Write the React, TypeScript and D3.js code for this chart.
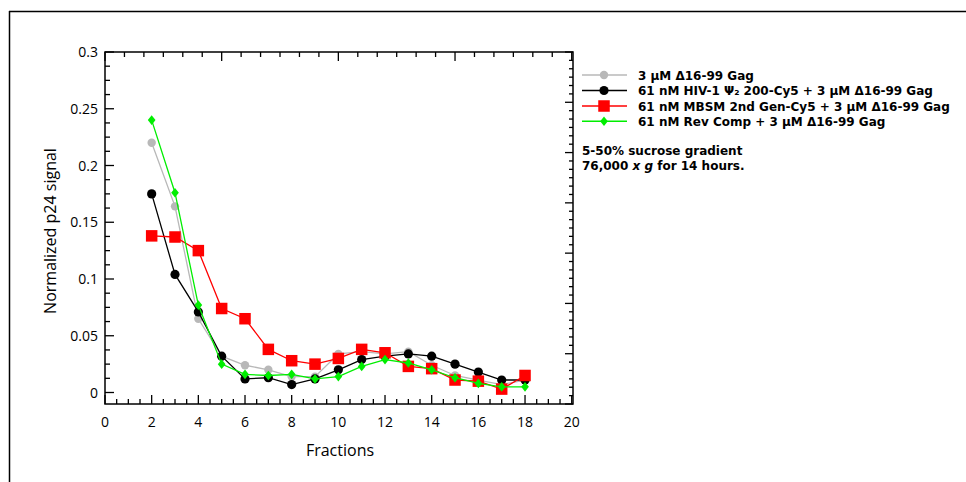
import React from "react";
import * as d3 from "d3";

const fractions = [2, 3, 4, 5, 6, 7, 8, 9, 10, 11, 12, 13, 14, 15, 16, 17, 18];
const grayValues = [0.22, 0.164, 0.065, 0.032, 0.024, 0.02, 0.014, 0.014, 0.034, 0.036, 0.034, 0.036, 0.024, 0.015, 0.011, 0.007, 0.011];
const blackValues = [0.175, 0.104, 0.071, 0.032, 0.012, 0.013, 0.007, 0.012, 0.02, 0.029, 0.032, 0.034, 0.032, 0.025, 0.018, 0.011, 0.011];
const redValues = [0.138, 0.137, 0.125, 0.074, 0.065, 0.038, 0.028, 0.025, 0.03, 0.038, 0.035, 0.023, 0.021, 0.011, 0.01, 0.003, 0.015];
const greenValues = [0.24, 0.176, 0.077, 0.025, 0.016, 0.015, 0.016, 0.012, 0.014, 0.023, 0.029, 0.026, 0.02, 0.013, 0.008, 0.005, 0.005];

const seriesNames = [
  "3 µM Δ16-99 Gag",
  "61 nM HIV-1 Ψ₂ 200-Cy5 + 3 µM Δ16-99 Gag",
  "61 nM MBSM 2nd Gen-Cy5 + 3 µM Δ16-99 Gag",
  "61 nM Rev Comp + 3 µM Δ16-99 Gag",
];
const seriesColors = ["#b8b8b8", "#000000", "#ff0000", "#00ee00"];
const seriesMarkers = ["circle", "circle", "square", "diamond"];
const xTickLabels = [0, 2, 4, 6, 8, 10, 12, 14, 16, 18, 20];
const yTickLabels = [0, 0.05, 0.1, 0.15, 0.2, 0.25, 0.3];

const W = 966;
const H = 482;
const left = 105;
const right = 573;
const top = 52;
const bottom = 404;
const FONT = "'Open Sans', 'DejaVu Sans', sans-serif";
const LEGEND_FONT = "'DejaVu Sans', sans-serif";

const x = d3.scaleLinear().domain([0, 20]).range([left, left + 466.7]);
const y = d3.scaleLinear().domain([0, 0.3]).range([392.5, top]);
// decorative mirror axes (top / right) with their own subdivisions
const xTop = d3.scaleLinear().domain([0, 4]).range([left, left + 466.7]);
const yRight = d3.scaleLinear().domain([0, 7]).range([bottom, top]);

function Marker({ kind, cx, cy, color }: { kind: string; cx: number; cy: number; color: string }) {
  if (kind === "circle") {
    const r = color === "#000000" ? 4.6 : 4.2;
    return <circle cx={cx} cy={cy} r={r} fill={color} />;
  }
  if (kind === "square") {
    const s = 11.5;
    return <rect x={cx - s / 2} y={cy - s / 2} width={s} height={s} fill={color} />;
  }
  const d = 4.8;
  return (
    <path
      d={`M${cx},${cy - d}L${cx + d * 0.8},${cy}L${cx},${cy + d}L${cx - d * 0.8},${cy}Z`}
      fill={color}
    />
  );
}

export default function App() {
  const all = [grayValues, blackValues, redValues, greenValues];
  const line = d3
    .line<[number, number]>()
    .x((d) => x(d[0]))
    .y((d) => y(d[1]));

  const xMinor = d3.range(0, 20.001, 0.5);
  const yMinor = d3.range(0, 0.3001, 0.0125);
  const topMinor = d3.range(0, 4.001, 1 / 6);
  const rightMinor = d3.range(0, 7.001, 1 / 6);

  const legendY = [75, 90.5, 106, 121.3];

  return (
    <svg
      width={W}
      height={H}
      style={{ position: "absolute", left: 0, top: 0, background: "#fff" }}
      fontFamily={FONT}
    >
      <rect x={0} y={0} width={W} height={H} fill="#fff" />
      {/* outer frame */}
      <line x1={9} x2={W} y1={11.5} y2={11.5} stroke="#000" strokeWidth={1.5} />
      <line x1={9.5} x2={9.5} y1={11} y2={H} stroke="#000" strokeWidth={1.5} />

      {/* plot box */}
      <rect x={left} y={top} width={right - left} height={bottom - top} fill="none" stroke="#000" strokeWidth={1.5} />

      {/* bottom ticks */}
      {xMinor.map((v, i) => {
        const major = Math.abs(v / 2 - Math.round(v / 2)) < 1e-6;
        return (
          <line key={"bx" + i} x1={x(v)} x2={x(v)} y1={bottom} y2={bottom - (major ? 9 : 5)} stroke="#000" strokeWidth={1.3} />
        );
      })}
      {/* top ticks */}
      {topMinor.map((v, i) => {
        const major = Math.abs(v - Math.round(v)) < 1e-6;
        return (
          <line key={"tx" + i} x1={xTop(v)} x2={xTop(v)} y1={top} y2={top + (major ? 9 : 5)} stroke="#000" strokeWidth={1.3} />
        );
      })}
      {/* left ticks */}
      {yMinor.map((v, i) => {
        const major = Math.abs(v / 0.05 - Math.round(v / 0.05)) < 1e-6;
        return (
          <line key={"ly" + i} x1={left} x2={left + (major ? 9 : 5)} y1={y(v)} y2={y(v)} stroke="#000" strokeWidth={1.3} />
        );
      })}
      {/* right ticks */}
      {rightMinor.map((v, i) => {
        const major = Math.abs(v - Math.round(v)) < 1e-6;
        return (
          <line key={"ry" + i} x1={right} x2={right - (major ? 8 : 4)} y1={yRight(v)} y2={yRight(v)} stroke="#000" strokeWidth={1.3} />
        );
      })}

      {/* tick labels */}
      {xTickLabels.map((v) => (
        <text key={"xl" + v} x={x(v)} y={427} textAnchor="middle" fontSize={14} fill="#000">
          {v}
        </text>
      ))}
      {yTickLabels.map((v) => (
        <text key={"yl" + v} x={98} y={y(v) + 5} textAnchor="end" fontSize={14} fill="#000">
          {v}
        </text>
      ))}

      {/* axis titles */}
      <text x={340} y={456} textAnchor="middle" fontSize={16} fill="#000">
        Fractions
      </text>
      <text transform="translate(56,231) rotate(-90)" textAnchor="middle" fontSize={16} fill="#000">
        Normalized p24 signal
      </text>

      {/* series */}
      {all.map((vals, si) => {
        const pts: [number, number][] = fractions.map((f, i) => [f, vals[i]]);
        return (
          <g key={"s" + si}>
            <path d={line(pts) || ""} fill="none" stroke={seriesColors[si]} strokeWidth={1.3} />
            {pts.map((p, i) => (
              <Marker key={i} kind={seriesMarkers[si]} cx={x(p[0])} cy={y(p[1])} color={seriesColors[si]} />
            ))}
          </g>
        );
      })}

      {/* legend */}
      <g fontFamily={LEGEND_FONT}>
        {seriesNames.map((name, i) => (
          <g key={"lg" + i}>
            <line x1={582} x2={627} y1={legendY[i]} y2={legendY[i]} stroke={seriesColors[i]} strokeWidth={1.5} />
            <Marker kind={seriesMarkers[i]} cx={604} cy={legendY[i]} color={seriesColors[i]} />
            <text x={638} y={legendY[i] + 4.5} fontSize={12} fontWeight="bold" fill="#000">
              {name}
            </text>
          </g>
        ))}
        <text x={582} y={154.5} fontSize={12} fontWeight="bold" fill="#000">
          5-50% sucrose gradient
        </text>
        <text x={582} y={170} fontSize={12} fontWeight="bold" fill="#000">
          76,000 <tspan fontStyle="italic">x g</tspan> for 14 hours.
        </text>
      </g>
    </svg>
  );
}
